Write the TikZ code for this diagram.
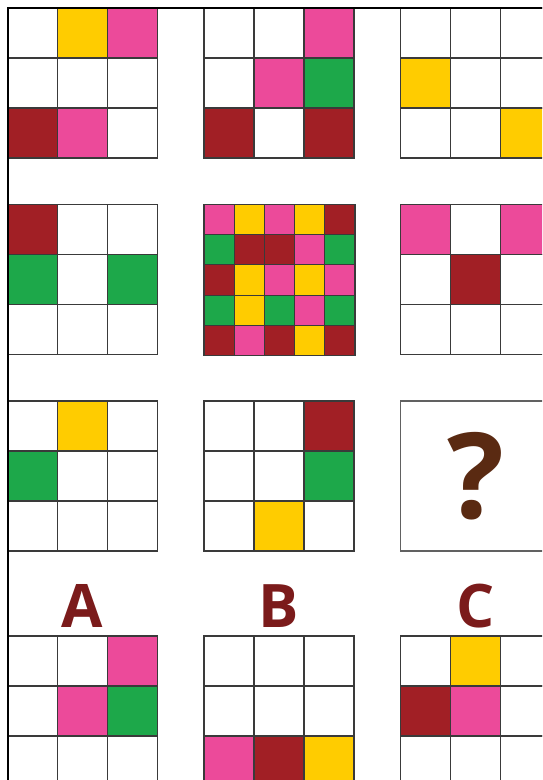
\documentclass[tikz,border=0pt]{standalone}
\usepackage{fontspec}
\setmainfont{Open Sans}
\definecolor{cW}{HTML}{FFFFFF}
\definecolor{cY}{HTML}{FFCC00}
\definecolor{cP}{HTML}{EC4A9A}
\definecolor{cG}{HTML}{1DA84A}
\definecolor{cR}{HTML}{A11F25}
\definecolor{gridline}{HTML}{3A3A3A}
\definecolor{labelred}{HTML}{7B1B1B}
\definecolor{qbrown}{HTML}{5A2A12}
\newcommand\mygrid[5]{% x, y, n, cell size, colours
  \foreach \c [count=\i from 0] in {#5} {
    \pgfmathtruncatemacro\cc{mod(\i,#3)}
    \pgfmathtruncatemacro\rr{floor(\i/#3)}
    \path[fill=c\c, draw=gridline, gridln] ({#1+\cc*#4},{#2+\rr*#4}) rectangle ++(#4,#4);
  }
}
\begin{document}
\begin{tikzpicture}[x=1pt,y=-1pt,
  gridln/.style={line width=1.1pt},
  lbl/.style={text=labelred, font=\fontsize{60}{60}\selectfont\bfseries, anchor=base, inner sep=0pt},
  qmark/.style={text=qbrown, font=\fontsize{119}{119}\selectfont\bfseries, anchor=base, inner sep=0pt},
  qbox/.style={draw=gridline!80, line width=1.1pt, fill=white}]
\useasboundingbox (0,0) rectangle (542,780);
\clip (0,0) rectangle (542,780);
\fill[white] (0,0) rectangle (542,780);
% row 1
\mygrid{7.5}{8}{3}{50}{W,Y,P,W,W,W,R,P,W}
\mygrid{204}{8}{3}{50}{W,W,P,W,P,G,R,W,R}
\mygrid{400.5}{8}{3}{50}{W,W,W,Y,W,W,W,W,Y}
% row 2
\mygrid{7.5}{204.5}{3}{50}{R,W,W,G,W,G,W,W,W}
\mygrid{204}{204.5}{5}{30.2}{P,Y,P,Y,R,G,R,R,P,G,R,Y,P,Y,P,G,Y,G,P,G,R,P,R,Y,R}
\mygrid{400.5}{204.5}{3}{50}{P,W,P,W,R,W,W,W,W}
% row 3
\mygrid{7.5}{401}{3}{50}{W,Y,W,G,W,W,W,W,W}
\mygrid{204}{401}{3}{50}{W,W,R,W,W,G,W,Y,W}
\draw[qbox] (400.5,401) rectangle (550.5,551);
\node[qmark] (q) at (475.5,518) {?};
% labels
\node[lbl] (la) at (82.5,627) {A};
\node[lbl] (lb) at (279,627) {B};
\node[lbl] (lc) at (475.5,627) {C};
% row 4
\mygrid{7.5}{636}{3}{50}{W,W,P,W,P,G,W,W,W}
\mygrid{204}{636}{3}{50}{W,W,W,W,W,W,P,R,Y}
\mygrid{400.5}{636}{3}{50}{W,Y,W,R,P,W,W,W,W}
% frame
\draw[black, line width=2pt] (7.5,790) -- (7.5,8) -- (560,8);
\end{tikzpicture}
\end{document}
